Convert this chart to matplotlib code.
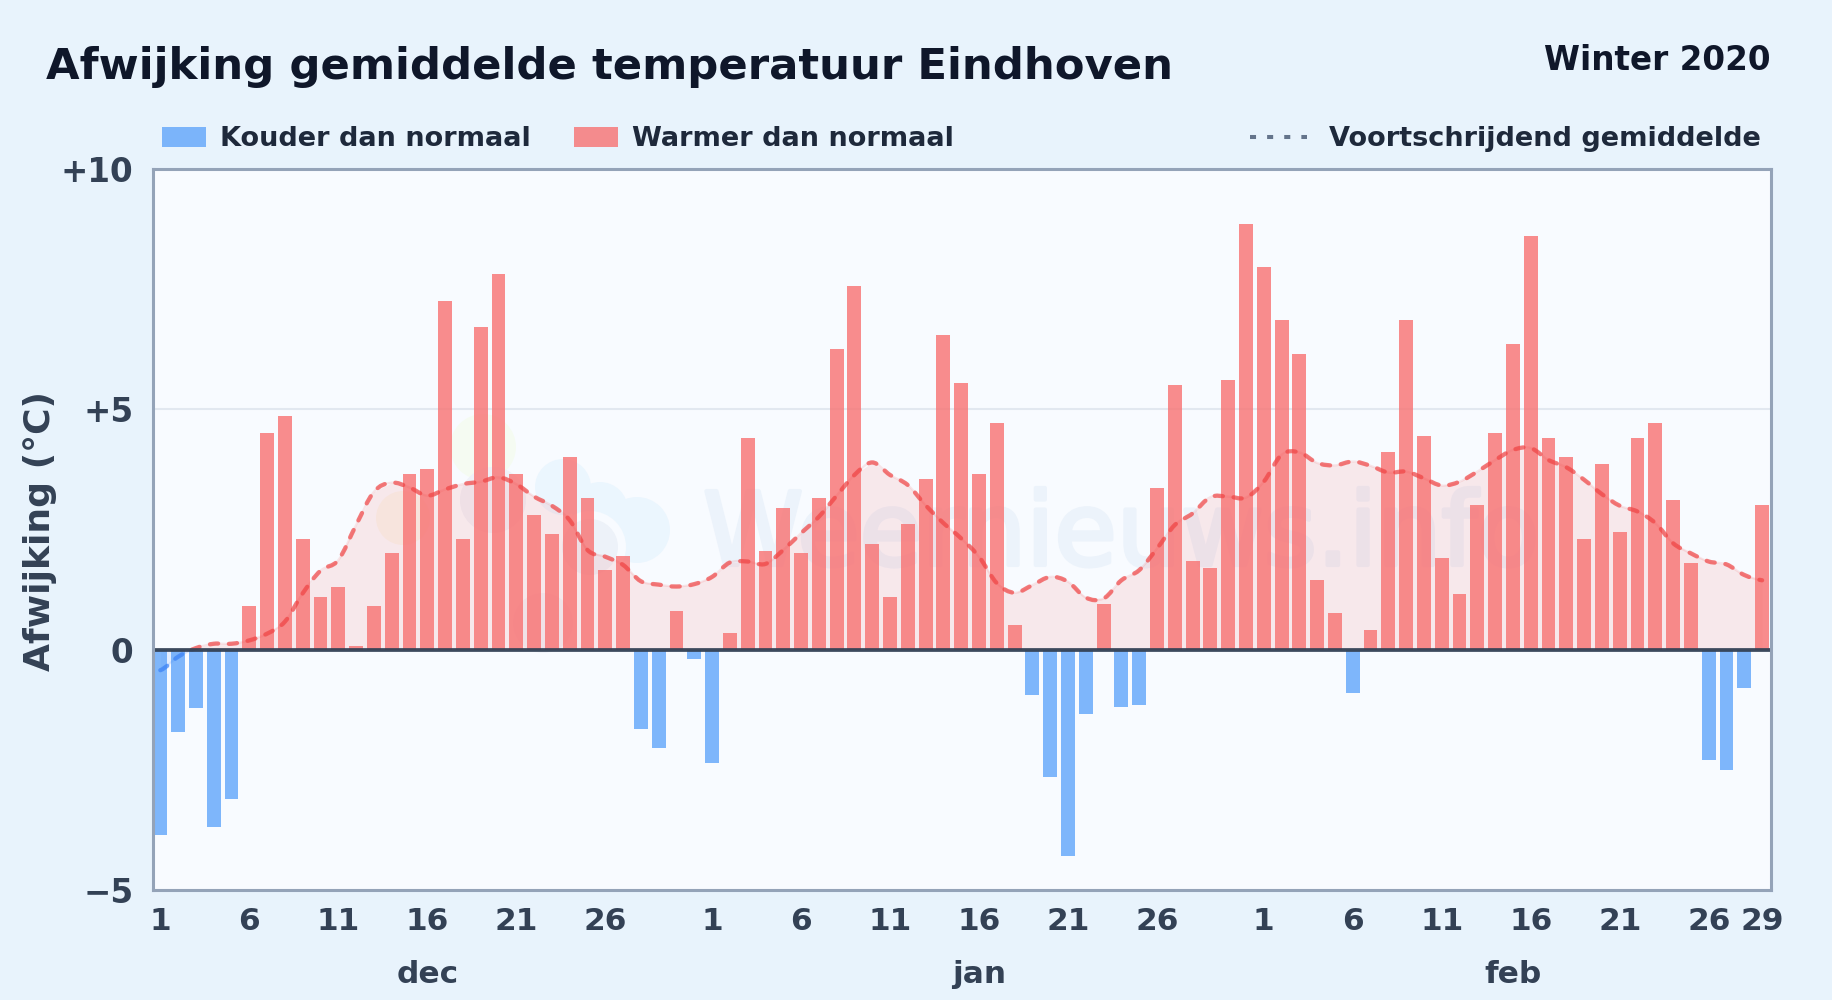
import numpy as np
from matplotlib import pyplot as plt
from matplotlib import patheffects
from matplotlib.lines import Line2D
from matplotlib.patches import Circle, Patch, PathPatch, Rectangle
from matplotlib.path import Path
from matplotlib.transforms import IdentityTransform

# afwijking per dag
dec = [-3.85, -1.72, -1.22, -3.7, -3.1, 0.9, 4.5, 4.85, 2.3, 1.1, 1.3, 0.08, 0.9, 2.0, 3.65, 3.75,
       7.25, 2.3, 6.7, 7.8, 3.65, 2.8, 2.4, 4.0, 3.15, 1.65, 1.95, -1.65, -2.05, 0.8, -0.2]
jan = [-2.35, 0.35, 4.4, 2.05, 2.95, 2.0, 3.15, 6.25, 7.55, 2.2, 1.1, 2.6, 3.55, 6.55, 5.55, 3.65,
       4.7, 0.5, -0.95, -2.65, -4.3, -1.35, 0.95, -1.2, -1.15, 3.35, 5.5, 1.85, 1.7, 5.6, 8.85]
feb = [7.95, 6.85, 6.15, 1.45, 0.75, -0.9, 0.4, 4.1, 6.85, 4.45, 1.9, 1.15, 3.0, 4.5, 6.35, 8.6,
       4.4, 4.0, 2.3, 3.85, 2.45, 4.4, 4.7, 3.1, 1.8, -2.3, -2.5, -0.8, 3.0]

# voortschrijdend gemiddelde
gem_dec = [-0.43, -0.15, 0.03, 0.12, 0.12, 0.19, 0.33, 0.58, 1.17, 1.64, 1.86, 2.59, 3.28, 3.47, 3.37, 3.2,
           3.33, 3.44, 3.49, 3.58, 3.44, 3.18, 2.99, 2.69, 2.07, 1.93, 1.76, 1.42, 1.35, 1.31, 1.36]
gem_jan = [1.51, 1.81, 1.83, 1.78, 2.07, 2.42, 2.76, 3.2, 3.63, 3.89, 3.63, 3.42, 3.0, 2.63, 2.31, 1.93,
           1.38, 1.18, 1.34, 1.51, 1.41, 1.08, 1.06, 1.44, 1.65, 2.1, 2.59, 2.83, 3.17, 3.18, 3.16]
gem_feb = [3.49, 4.05, 4.1, 3.88, 3.83, 3.91, 3.82, 3.68, 3.7, 3.56, 3.41, 3.49, 3.7, 3.94, 4.15, 4.19,
           3.94, 3.79, 3.53, 3.23, 2.99, 2.87, 2.63, 2.21, 2.0, 1.83, 1.77, 1.55, 1.44]

maanden = ["dec", "jan", "feb"]
maand_midden = [15, 46, 76]
dag_ticks = [0, 5, 10, 15, 20, 25, 31, 36, 41, 46, 51, 56, 62, 67, 72, 77, 82, 87, 90]
dag_labels = ["1", "6", "11", "16", "21", "26", "1", "6", "11", "16", "21", "26",
              "1", "6", "11", "16", "21", "26", "29"]
y_ticks = [-5, 0, 5, 10]
y_labels = ["\u22125", "0", "+5", "+10"]

ROOD = "#f87171"
BLAUW = "#60a5fa"
DONKER = "#334155"
W, H = 1832, 1000
AX_TOP, AX_BOTTOM = 168.6, 890


def px_fig(x, y):
    return x / W, 1 - y / H


def smooth_path(x, y):
    # catmull-rom als bezier, zelfde beeld als de lijn in het origineel
    verts = [(x[0], y[0])]
    codes = [Path.MOVETO]
    for i in range(len(x) - 1):
        y0 = y[max(i - 1, 0)]
        y3 = y[min(i + 2, len(y) - 1)]
        verts += [(x[i] + 1 / 3, y[i] + (y[i + 1] - y0) / 6),
                  (x[i + 1] - 1 / 3, y[i + 1] - (y3 - y[i]) / 6),
                  (x[i + 1], y[i + 1])]
        codes += [Path.CURVE4] * 3
    return Path(verts, codes)


waarden = np.array(dec + jan + feb)
gemiddelde = np.array(gem_dec + gem_jan + gem_feb)
dagen = np.arange(len(waarden))

fig = plt.figure(figsize=(W / 100, H / 100), dpi=100, facecolor="#e8f3fc")
ax = fig.add_axes([152.5 / W, 1 - AX_BOTTOM / H, 1618.5 / W, (AX_BOTTOM - AX_TOP) / H], facecolor="#f8fbff")
ax_h = AX_BOTTOM - AX_TOP

# watermerk
for cx, cy, r, kleur in [(483, 447, 33, "#f5fbf2"), (403, 518, 27, "#f8f7ef"), (493, 500, 33, "#eff2f9"),
                         (563, 487, 28, "#ebf6fe"), (637, 530, 33, "#ebf6fe"), (600, 510, 28, "#ebf6fe"),
                         (590, 547, 36, "#f8fbff"), (590, 547, 28, "#edf2f9"), (543, 623, 30, "#f1f4fa")]:
    ax.add_patch(Circle((cx, H - cy), r, transform=IdentityTransform(), facecolor=kleur,
                        edgecolor="none", zorder=0.5))
ax.text((703 - 152.5) / 1618.5, (AX_BOTTOM - 565) / ax_h, "Weernieuws.info", transform=ax.transAxes,
        fontsize=73, color="#ecf3fb", va="baseline", ha="left", zorder=0.6,
        path_effects=[patheffects.withStroke(linewidth=3, foreground="#ecf3fb")])

ax.fill_between(dagen, gemiddelde, 0, where=gemiddelde >= 0, interpolate=True, color="#ef4444", alpha=0.1,
                linewidth=0, zorder=1)
ax.fill_between(dagen, gemiddelde, 0, where=gemiddelde <= 0, interpolate=True, color="#3b82f6", alpha=0.1,
                linewidth=0, zorder=1)

ax.bar(dagen[waarden >= 0], waarden[waarden >= 0], width=0.78, color=ROOD, alpha=0.8, linewidth=0, zorder=2)
ax.bar(dagen[waarden < 0], waarden[waarden < 0], width=0.78, color=BLAUW, alpha=0.8, linewidth=0, zorder=2)

pad = smooth_path(dagen, gemiddelde)
boven = Rectangle((-1, 0), 93, 11, transform=ax.transData)
onder = Rectangle((-1, -6), 93, 6, transform=ax.transData)
for kleur, clip in [("#ef4444", boven), ("#3b82f6", onder)]:
    halo = PathPatch(pad, fill=False, edgecolor=kleur, linewidth=1.6, alpha=0.12, zorder=3)
    lijn = PathPatch(pad, fill=False, edgecolor=kleur, linewidth=3.1, alpha=0.7, zorder=3,
                     linestyle=(0, (1.9, 2.5)), capstyle="round")
    ax.add_patch(halo)
    ax.add_patch(lijn)
    halo.set_clip_path(clip)
    lijn.set_clip_path(clip)

ax.axhline(0, color=DONKER, alpha=0.95, linewidth=2.7, zorder=4)

ax.set_xlim(-0.44, 90.5)
ax.set_ylim(-5, 10)
ax.set_xticks(dag_ticks, dag_labels)
ax.set_yticks(y_ticks, y_labels)
ax.tick_params(axis="x", length=0, pad=12.2, labelsize=22.5, labelcolor=DONKER)
ax.tick_params(axis="y", length=0, pad=13.5, labelsize=23.5, labelcolor=DONKER)
for lab in ax.get_xticklabels() + ax.get_yticklabels():
    lab.set_fontweight("bold")
ax.grid(axis="y", color="#e2e8f0", linewidth=1.5, zorder=0)
ax.set_axisbelow(True)
for s in ax.spines.values():
    s.set_color("#94a3b8")
    s.set_linewidth(2.2)
    s.set_zorder(5)

for naam, midden in zip(maanden, maand_midden):
    ax.text(midden, (AX_BOTTOM - 983) / ax_h, naam, transform=ax.get_xaxis_transform(), ha="center", va="baseline",
            fontsize=22.5, fontweight="bold", color=DONKER)

ax.set_ylabel("Afwijking (\u00b0C)", fontsize=26, fontweight="bold", color=DONKER)
ax.yaxis.set_label_coords((57 - 152.5) / 1618.5, (AX_BOTTOM - 531) / ax_h)

fig.text(*px_fig(46, 79), "Afwijking gemiddelde temperatuur Eindhoven", fontsize=31.2, fontweight="bold",
         color="#0f172a", va="baseline")
fig.text(*px_fig(1771, 70), "Winter 2020", fontsize=23.5, fontweight="bold", color="#0f172a",
         va="baseline", ha="right")

links = ax.legend(handles=[Patch(color=BLAUW, alpha=0.8, linewidth=0, label="Kouder dan normaal"),
                           Patch(color=ROOD, alpha=0.8, linewidth=0, label="Warmer dan normaal")],
                  loc="center left", bbox_to_anchor=px_fig(162, 139.5), bbox_transform=fig.transFigure, ncol=2,
                  frameon=False, borderaxespad=0, borderpad=0, handlelength=1.62, handleheight=0.7,
                  handletextpad=0.52, columnspacing=1.6,
                  prop={"size": 19.55, "weight": "bold"}, labelcolor="#1e293b")
ax.add_artist(links)
ax.legend(handles=[Line2D([], [], color="#64748b", linewidth=2.9, linestyle=(0, (1.5, 2.75)),
                          dash_capstyle="butt", label="Voortschrijdend gemiddelde")],
          loc="center right", bbox_to_anchor=px_fig(1761, 139.5), bbox_transform=fig.transFigure,
          frameon=False, borderaxespad=0, borderpad=0, handlelength=2.1, handletextpad=0.8,
          prop={"size": 19.55, "weight": "bold"}, labelcolor="#1e293b")

fig.savefig("out.png", dpi=100, facecolor=fig.get_facecolor())
